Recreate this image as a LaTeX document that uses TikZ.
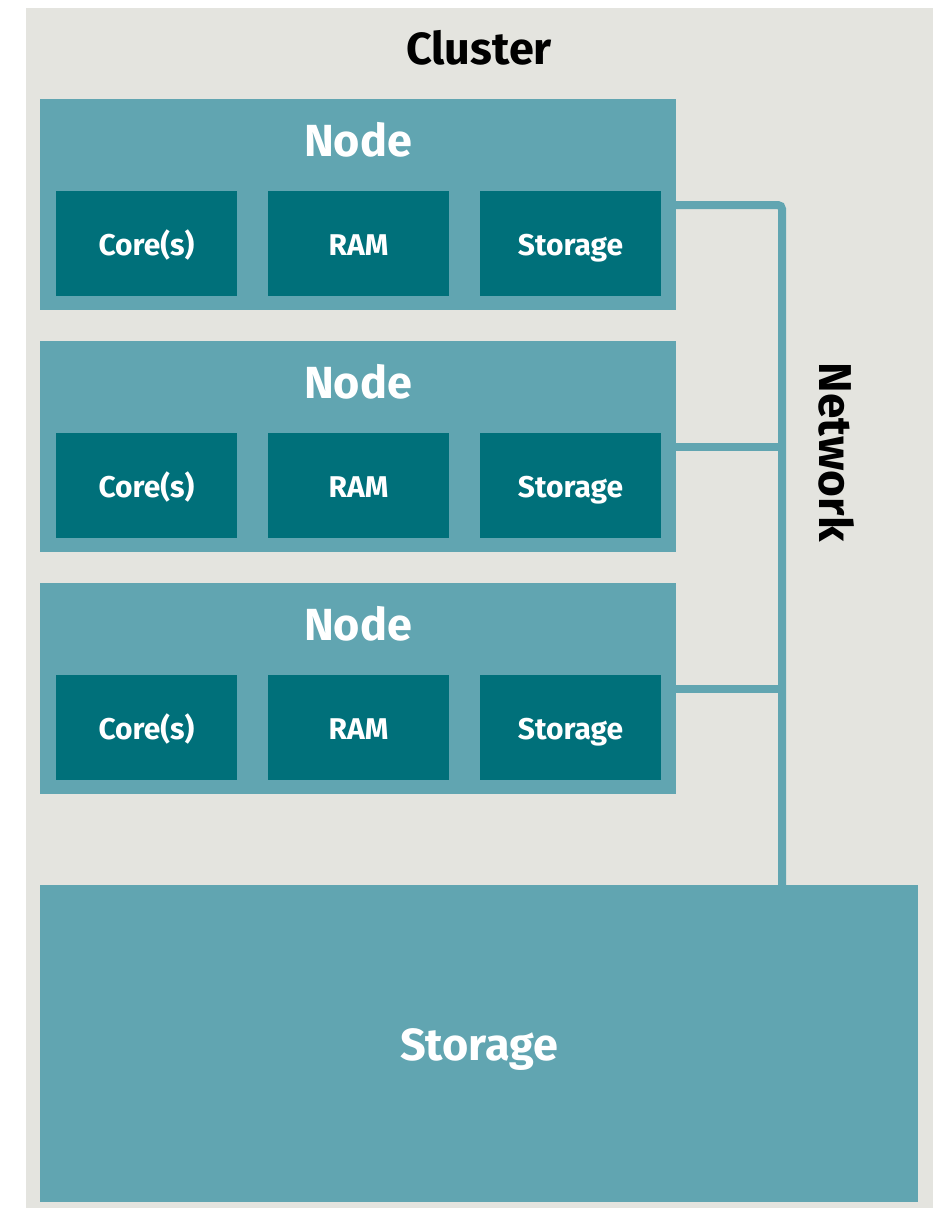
\documentclass[tikz,border=0pt]{standalone}
\usepackage{fontspec}
\setmainfont{Fira Sans}
\definecolor{clusterbg}{RGB}{228,228,223}
\definecolor{nodebg}{RGB}{97,165,177}
\definecolor{partbg}{RGB}{0,112,122}
\begin{document}
\begin{tikzpicture}[x=1pt,y=-1pt,
  box/.style={fill=nodebg, draw=none},
  part/.style={fill=partbg, draw=none, minimum width=181pt, minimum height=105pt,
    inner sep=0pt, text height=24pt, text depth=0pt, text=white,
    font=\bfseries\fontsize{30}{36}\selectfont},
  title/.style={text=white, font=\bfseries\fontsize{45}{52}\selectfont},
  link/.style={draw=nodebg, line width=8pt},
]
\useasboundingbox (0,0) rectangle (935,1208);
\fill[white] (0,0) rectangle (935,1208);
\fill[clusterbg] (26,8) rectangle (933,1208);
\node[font=\bfseries\fontsize{45}{52}\selectfont] (cluster) at (479,48) {Cluster};

% three compute nodes, each with a port on its right edge
\foreach \i/\y in {1/99, 2/341, 3/583} {
  \fill[box] (40,\y) rectangle (676,\y+211);
  \node[title] (title\i) at (358,\y+41) {Node};
  \node[part] (core\i) at (146.5,\y+144) {Core(s)};
  \node[part] (ram\i) at (358.5,\y+144) {RAM};
  \node[part] (stor\i) at (570.5,\y+144) {Storage};
  \coordinate (port\i) at (676,\y+106);
  \coordinate (bus\i) at (782,\y+106);
}

% shared storage
\node[fill=nodebg, minimum width=878pt, minimum height=317pt, inner sep=0pt,
  text height=33pt, text depth=0pt, text=white,
  font=\bfseries\fontsize{45}{52}\selectfont] (shared) at (479,1043.5) {Storage};

% network bus
\draw[link, rounded corners=4pt] (port1) -- (bus1) -- (shared.north -| bus1);
\draw[link] (port2) -- (bus2);
\draw[link] (port3) -- (bus3);
\node[rotate=-90, font=\bfseries\fontsize{46}{52}\selectfont] (network) at (837,452) {Network};
\end{tikzpicture}
\end{document}
